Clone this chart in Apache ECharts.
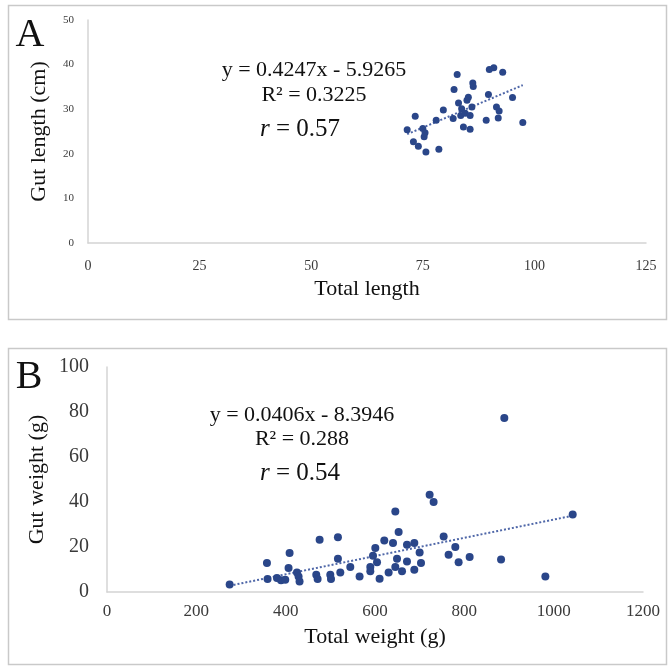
<!DOCTYPE html>
<html>
<head>
<meta charset="utf-8">
<script src="https://cdn.jsdelivr.net/npm/echarts@6/dist/echarts.min.js"></script>
<style>
  html, body { margin: 0; padding: 0; background: #fff; }
  #chart { width: 670px; height: 667px; }
</style>
</head>
<body>
<div id="chart"></div>
<script>
// panel A: total length vs gut length
const lengthPoints = [
  [71.5, 25.4], [72.9, 22.7], [73.3, 28.4], [74.0, 21.7], [75.0, 25.7], [75.3, 23.8],
  [75.5, 24.7], [75.7, 20.4], [78.0, 27.5], [78.6, 21.0], [79.6, 29.8], [81.8, 27.9],
  [82.0, 34.4], [82.7, 37.8], [83.0, 31.4], [83.5, 28.6], [83.7, 30.1], [84.1, 26.0],
  [84.5, 29.1], [84.9, 32.0], [85.2, 32.7], [85.6, 28.6], [85.6, 25.5], [86.2, 35.9],
  [86.3, 35.1], [86.0, 30.5], [89.2, 27.5], [89.7, 33.3], [89.9, 38.9], [90.9, 39.3],
  [91.5, 30.5], [91.9, 28.0], [92.1, 29.6], [92.9, 38.3], [95.1, 32.6], [97.4, 27.0]
]
const lengthTrend = [[71.5, 24.4], [97.4, 35.4]]
const lengthTicksX = [0, 25, 50, 75, 100, 125]
const lengthTicksY = [0, 10, 20, 30, 40, 50]

// panel B: total weight vs gut weight
const weightPoints = [
  [274.6, 3.3], [358.1, 12.9], [359.5, 5.8], [380.5, 6.2], [389.5, 5.2], [399.1, 5.5],
  [406.5, 10.7], [408.8, 17.3], [425.3, 8.7], [428.9, 6.9], [431.1, 4.7], [468.5, 7.7],
  [471.5, 5.8], [476.0, 23.2], [499.9, 7.7], [501.5, 5.8], [517.0, 24.3], [517.0, 14.8],
  [522.3, 8.7], [544.7, 11.1], [565.5, 6.9], [589.5, 11.1], [589.5, 9.2], [595.5, 16.1],
  [600.7, 19.6], [604.5, 13.2], [610.3, 5.9], [620.8, 22.9], [630.5, 8.7], [640.3, 21.8],
  [645.5, 35.8], [645.5, 11.1], [649.3, 14.8], [652.9, 26.7], [660.5, 9.2], [671.6, 21.0],
  [671.6, 13.6], [688.0, 21.8], [688.0, 9.9], [699.9, 17.6], [703.0, 12.9], [722.3, 43.2],
  [731.2, 40.0], [753.7, 24.7], [764.8, 16.6], [779.8, 20.0], [787.2, 13.2], [811.9, 15.6],
  [882.2, 14.4], [889.5, 77.3], [981.4, 6.9], [1042.6, 34.4]
]
const weightTrend = [[274.6, 2.8], [1042.6, 33.9]]
const weightTicksX = [0, 200, 400, 600, 800, 1000, 1200]
const weightTicksY = [0, 20, 40, 60, 80, 100]

const serif = 'Liberation Serif'
const dotColor = '#2a4689'
const trendColor = '#4f67a8'

const chart = echarts.init(document.getElementById('chart'))

function axisBase (ticks, labelSize, margin) {
  return {
    type: 'value',
    min: ticks[0],
    max: ticks[ticks.length - 1],
    interval: ticks[1] - ticks[0],
    axisLine: { show: true, lineStyle: { color: '#d4d4d4', width: 1.5 } },
    axisTick: { show: false },
    splitLine: { show: false },
    axisLabel: {
      fontFamily: serif,
      fontSize: labelSize,
      color: '#3a3a3a',
      margin: margin,
      formatter: v => String(v)
    },
    nameLocation: 'middle',
    nameTextStyle: { fontFamily: serif, fontSize: 22, color: '#111' }
  }
}

function note (x, y, text, size) {
  return {
    type: 'text',
    x: x,
    y: y,
    style: {
      text: text,
      fontFamily: serif,
      fontSize: size,
      fill: '#111',
      align: 'center',
      verticalAlign: 'middle'
    }
  }
}

function rEq (x, y, val) {
  return {
    type: 'text',
    x: x,
    y: y,
    style: {
      text: '{i|r} = ' + val,
      fontFamily: serif,
      fontSize: 25,
      fill: '#111',
      align: 'center',
      verticalAlign: 'middle',
      rich: { i: { fontStyle: 'italic', fontFamily: serif, fontSize: 25, fill: '#111' } }
    }
  }
}

const option = {
  animation: false,
  backgroundColor: '#fff',
  grid: [
    { left: 88, right: 24, top: 20, bottom: 424 },
    { left: 107, right: 27, top: 367, bottom: 75 }
  ],
  xAxis: [
    Object.assign(axisBase(lengthTicksX, 14, 16), { gridIndex: 0, name: 'Total length', nameGap: 35 }),
    Object.assign(axisBase(weightTicksX, 17, 11), { gridIndex: 1, name: 'Total weight (g)', nameGap: 34 })
  ],
  yAxis: [
    Object.assign(axisBase(lengthTicksY, 11, 14), { gridIndex: 0, name: 'Gut length (cm)', nameGap: 38 }),
    Object.assign(axisBase(weightTicksY, 20, 18), { gridIndex: 1, name: 'Gut weight (g)', nameGap: 58 })
  ],
  series: [
    {
      type: 'line',
      xAxisIndex: 0,
      yAxisIndex: 0,
      data: lengthTrend,
      symbol: 'none',
      lineStyle: { type: 'dotted', color: trendColor, width: 2 },
      z: 1
    },
    {
      type: 'scatter',
      xAxisIndex: 0,
      yAxisIndex: 0,
      data: lengthPoints,
      symbolSize: 7,
      itemStyle: { color: dotColor, opacity: 1 },
      z: 2
    },
    {
      type: 'line',
      xAxisIndex: 1,
      yAxisIndex: 1,
      data: weightTrend,
      symbol: 'none',
      lineStyle: { type: 'dotted', color: trendColor, width: 2 },
      z: 1
    },
    {
      type: 'scatter',
      xAxisIndex: 1,
      yAxisIndex: 1,
      data: weightPoints,
      symbolSize: 8,
      itemStyle: { color: dotColor, opacity: 1 },
      z: 2
    }
  ],
  graphic: [
    // panel frames
    { type: 'rect', shape: { x: 8.5, y: 5.5, width: 658, height: 314 }, style: { fill: 'none', stroke: '#c9c9c9', lineWidth: 1.5 }, z: -1 },
    { type: 'rect', shape: { x: 8.5, y: 348.5, width: 658, height: 316 }, style: { fill: 'none', stroke: '#c9c9c9', lineWidth: 1.5 }, z: -1 },
    note(30, 35, 'A', 40),
    note(29, 377, 'B', 40),
    note(314, 70, 'y = 0.4247x - 5.9265', 22),
    note(314, 95, 'R² = 0.3225', 22),
    rEq(300, 129, '0.57'),
    note(302, 415, 'y = 0.0406x - 8.3946', 22),
    note(302, 439, 'R² = 0.288', 22),
    rEq(300, 473, '0.54')
  ]
}

chart.setOption(option)
</script>
</body>
</html>
